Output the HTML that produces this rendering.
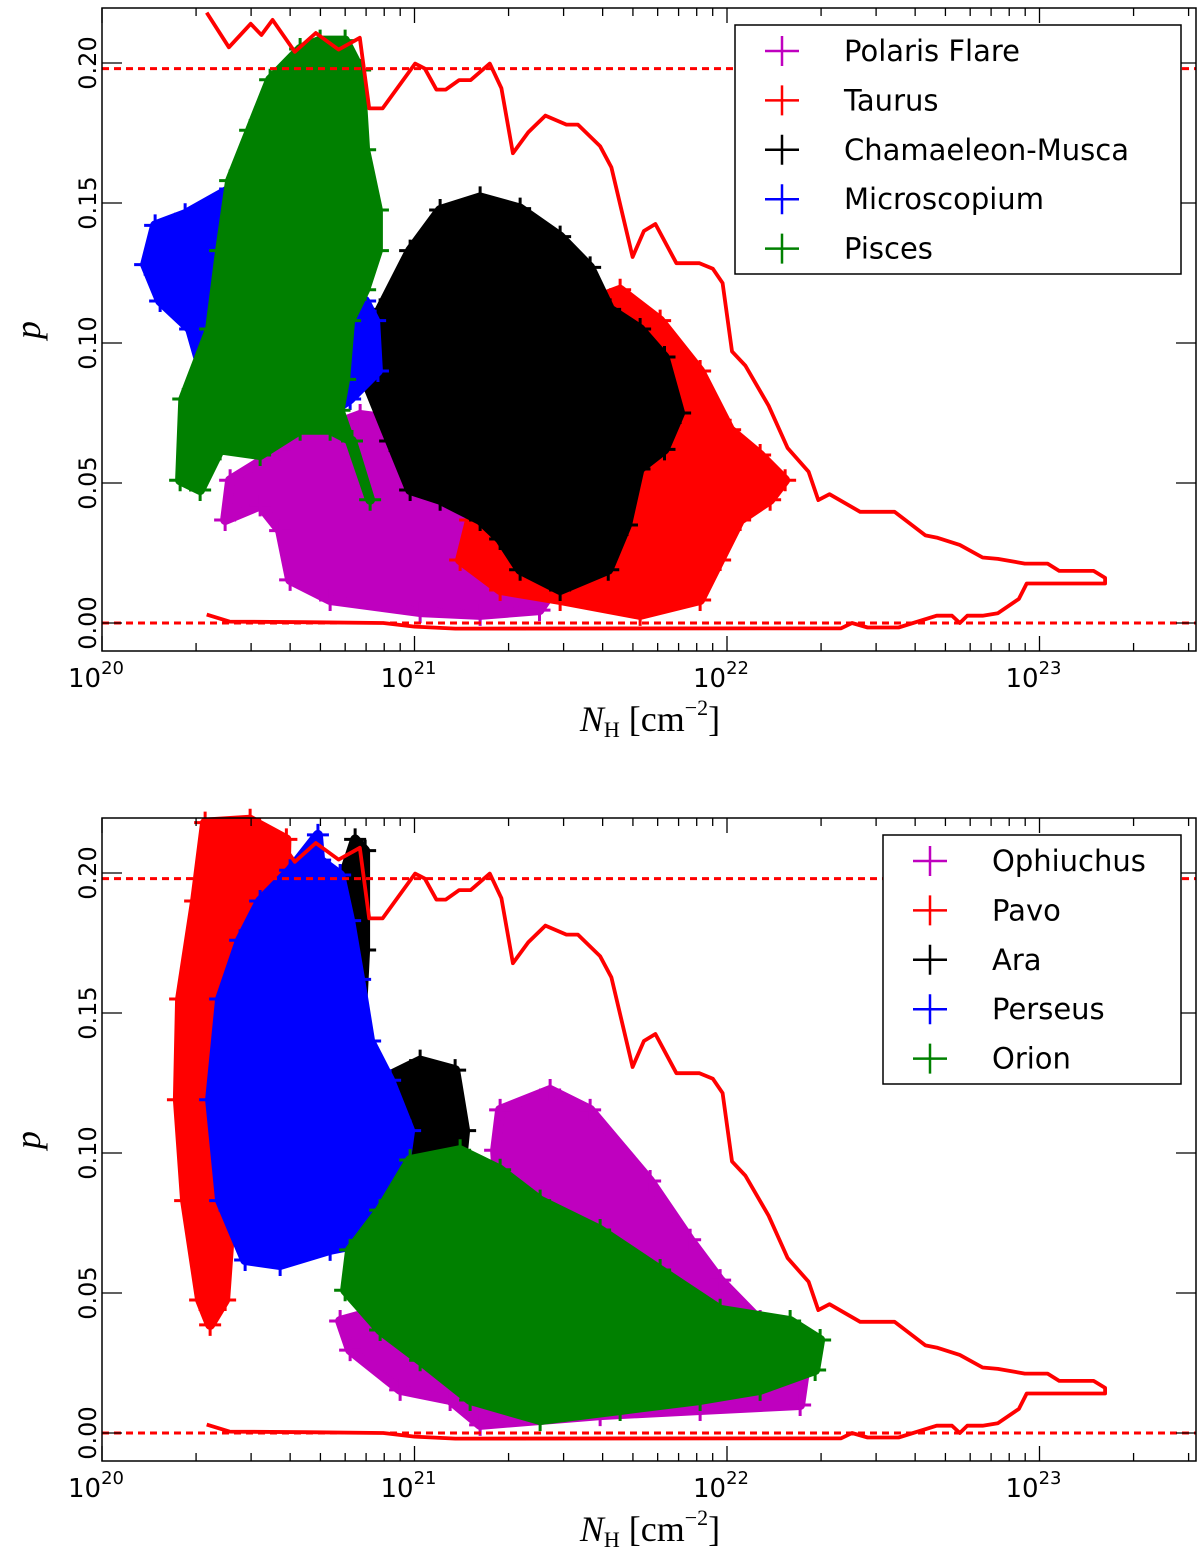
<!DOCTYPE html>
<html><head><meta charset="utf-8"><style>
html,body{margin:0;padding:0;background:#fff;width:1200px;height:1553px;overflow:hidden}
svg text{font-family:"DejaVu Sans","Liberation Sans",sans-serif}
</style></head><body>
<svg id="chart" xmlns="http://www.w3.org/2000/svg" width="1200" height="1553" viewBox="0 0 1200 1553"></svg>
<script>
// ---- data (x = log10 NH, y = p) ----
const xTicks = [20, 21, 22, 23];
const xTickLabels = ["20", "21", "22", "23"];
const yTicks = [0.00, 0.05, 0.10, 0.15, 0.20];
const yTickLabels = ["0.00", "0.05", "0.10", "0.15", "0.20"];
const dashLevels = [0.198, 0.0];
const envelopeLogNH = [20.335,20.406,20.476,20.51,20.546,20.617,20.684,20.757,20.825,20.855,20.898,21.002,21.033,21.07,21.10,21.143,21.18,21.241,21.278,21.315,21.364,21.419,21.486,21.523,21.594,21.63,21.698,21.734,21.771,21.838,21.912,21.955,21.986,22.016,22.059,22.133,22.194,22.261,22.292,22.328,22.426,22.536,22.635,22.671,22.745,22.818,22.867,22.953,23.026,23.063,23.173,23.21,23.21,22.959,22.934,22.867,22.818,22.769,22.745,22.72,22.671,22.549,22.45,22.40,22.365,21.131,21.0,20.9,20.65,20.408,20.335];
const envelopeP = [0.218,0.2056,0.214,0.21,0.2154,0.204,0.2107,0.2048,0.209,0.1838,0.1838,0.1998,0.198,0.1905,0.1905,0.1939,0.1939,0.1998,0.191,0.1678,0.1753,0.1812,0.178,0.178,0.1703,0.1627,0.1307,0.14,0.1425,0.1285,0.1285,0.1265,0.1214,0.097,0.0919,0.0776,0.0625,0.054,0.0439,0.046,0.0397,0.0397,0.0313,0.0305,0.0279,0.0234,0.0229,0.0212,0.0212,0.0186,0.0186,0.0161,0.0141,0.0141,0.0086,0.0035,0.0026,0.0026,0.0,0.0026,0.0026,-0.0016,-0.0016,0.0,-0.0019,-0.002,-0.0013,0.0,0.0003,0.0005,0.003];

const topNames = ["Polaris Flare","Taurus","Chamaeleon-Musca","Microscopium","Pisces"];
const bottomNames = ["Ophiuchus","Pavo","Ara","Perseus","Orion"];
const seriesColors = ["#bf00bf","#ff0000","#000000","#0000ff","#008000"];

const polarisX = [20.41,20.57,20.698,20.826,20.954,21.082,21.21,21.338,21.466,21.40,21.21,21.018,20.73,20.602,20.57,20.506,20.394];
const polarisY = [0.051,0.062,0.069,0.0743,0.0725,0.065,0.051,0.030,0.0154,0.0046,0.0029,0.0039,0.0082,0.0154,0.033,0.042,0.0368];
const taurusX = [21.338,21.466,21.562,21.658,21.786,21.914,22.01,22.106,22.186,22.138,22.042,21.978,21.914,21.722,21.466,21.274,21.146,21.178,21.21,21.274];
const taurusY = [0.105,0.108,0.115,0.119,0.108,0.090,0.069,0.060,0.051,0.044,0.0368,0.0225,0.0082,0.0029,0.0082,0.0118,0.0225,0.0368,0.062,0.080];
const chamX = [20.89,20.986,21.082,21.21,21.338,21.466,21.562,21.626,21.722,21.80,21.85,21.80,21.72,21.68,21.62,21.466,21.338,21.274,21.21,21.082,20.986,20.922,20.842];
const chamY = [0.112,0.133,0.1475,0.152,0.148,0.138,0.127,0.112,0.105,0.095,0.075,0.062,0.055,0.035,0.019,0.0118,0.019,0.030,0.0368,0.044,0.0475,0.065,0.087];
const microX = [20.17,20.266,20.41,20.49,20.506,20.57,20.73,20.842,20.874,20.883,20.794,20.698,20.57,20.442,20.346,20.282,20.186,20.138];
const microY = [0.142,0.146,0.155,0.162,0.1475,0.1225,0.115,0.115,0.108,0.090,0.080,0.0725,0.069,0.0725,0.080,0.105,0.115,0.128];
const piscesX = [20.698,20.778,20.826,20.842,20.883,20.883,20.842,20.794,20.778,20.76,20.858,20.80,20.73,20.634,20.506,20.378,20.314,20.25,20.26,20.346,20.378,20.41,20.474,20.538,20.634];
const piscesY = [0.208,0.208,0.1975,0.169,0.1475,0.133,0.119,0.108,0.087,0.076,0.044,0.065,0.069,0.069,0.060,0.062,0.0475,0.051,0.080,0.105,0.133,0.158,0.176,0.194,0.205];

const ophX = [21.274,21.434,21.562,21.754,21.882,21.978,22.106,22.25,22.234,21.914,21.594,21.21,21.114,20.954,20.794,20.762,20.89,21.082,21.274,21.258];
const ophY = [0.1154,0.1225,0.1154,0.090,0.069,0.0546,0.040,0.0225,0.010,0.0082,0.0064,0.0029,0.0118,0.0154,0.0296,0.040,0.044,0.0475,0.0725,0.101];
const pavoX = [20.33,20.474,20.59,20.586,20.538,20.474,20.394,20.394,20.41,20.394,20.346,20.314,20.266,20.243,20.25,20.298];
const pavoY = [0.218,0.219,0.212,0.190,0.169,0.158,0.140,0.101,0.0725,0.0475,0.0386,0.0475,0.083,0.119,0.155,0.190];
const araX = [20.778,20.81,20.842,20.842,20.826,20.89,21.018,21.13,21.162,21.146,21.082,20.954,20.858,20.794,20.762,20.755];
const araY = [0.201,0.212,0.208,0.1725,0.137,0.126,0.133,0.1296,0.108,0.090,0.076,0.0654,0.0654,0.069,0.101,0.155];
const perseusX = [20.506,20.602,20.691,20.698,20.762,20.794,20.826,20.858,20.922,20.986,20.954,20.89,20.73,20.57,20.458,20.378,20.346,20.378,20.442];
const perseusY = [0.190,0.201,0.2136,0.2046,0.1993,0.183,0.162,0.140,0.126,0.108,0.083,0.069,0.0654,0.060,0.0618,0.083,0.119,0.155,0.176];
const orionX = [20.89,20.986,21.146,21.274,21.402,21.594,21.786,21.978,22.202,22.298,22.282,22.106,21.914,21.658,21.402,21.178,21.018,20.89,20.778,20.794];
const orionY = [0.0796,0.0975,0.101,0.094,0.083,0.0725,0.0582,0.044,0.040,0.0332,0.0225,0.0154,0.0118,0.0082,0.0046,0.0118,0.026,0.0368,0.051,0.0654];

const topClouds = [[polarisX,polarisY],[taurusX,taurusY],[chamX,chamY],[microX,microY],[piscesX,piscesY]];
const bottomClouds = [[ophX,ophY],[pavoX,pavoY],[araX,araY],[perseusX,perseusY],[orionX,orionY]];

// ---- layout ----
const NS = "http://www.w3.org/2000/svg";
const svg = document.getElementById("chart");
const X0 = 102, DEC = 312.5, XR = 1196;
function xs(v){ return X0 + (v - 20) * DEC; }
function ys(p, off){ return 623 + off - p * 2800; }
function mk(tag, attrs, parent){
  const e = document.createElementNS(NS, tag);
  for (const k in attrs) e.setAttribute(k, attrs[k]);
  (parent || svg).appendChild(e);
  return e;
}

function panel(off, clouds, names, legendBox, key){
  const g = mk("g", {});
  
  
  const top = 8 + off, bot = 651 + off;
  clouds.forEach((c, i) => {
    const cg = mk("g", {}, g);
    
    
    const pts = c[0].map((x, j) => xs(x).toFixed(1) + "," + ys(c[1][j], off).toFixed(1)).join(" ");
    mk("polygon", {points: pts, fill: seriesColors[i], stroke: seriesColors[i], "stroke-width": 10, "stroke-linejoin": "round"}, cg);
    c[0].forEach((x, j) => {
      const px = xs(x), py = ys(c[1][j], off);
      const m = mk("path", {d: `M${px-11},${py}H${px+11}M${px},${py-11}V${py+11}`, stroke: seriesColors[i], "stroke-width": 3}, cg);
      
      
    });
  });
  dashLevels.forEach(d => {
    const l = mk("line", {x1: X0, x2: XR, y1: ys(d, off), y2: ys(d, off), stroke: "#ff0000", "stroke-width": 3, "stroke-dasharray": "7,5"}, g);
    
    
  });
  const env = mk("polyline", {points: envelopeLogNH.map((x,j)=>xs(x).toFixed(1)+","+ys(envelopeP[j],off).toFixed(1)).join(" "), fill: "none", stroke: "#ff0000", "stroke-width": 3.8, "stroke-linejoin": "round"}, g);
  
  
  const fr = mk("rect", {x: X0, y: top, width: XR - X0, height: bot - top, fill: "none", stroke: "#000", "stroke-width": 1.5}, g);
  
  
  for (let d = 20; d <= 23; d++){
    for (let k = 1; k <= 9; k++){
      const v = d + Math.log10(k);
      if (xs(v) > XR) continue;
      const L = k === 1 ? 15 : 8;
      mk("line", {x1: xs(v), x2: xs(v), y1: top, y2: top + L, stroke: "#000", "stroke-width": 1.3}, g);
      mk("line", {x1: xs(v), x2: xs(v), y1: bot, y2: bot - L, stroke: "#000", "stroke-width": 1.3}, g);
    }
  }
  xTicks.forEach((t, i) => {
    const tx = mk("text", {x: xs(t) - 6, y: 687 + off, "text-anchor": "middle", "font-size": 26}, g);
    
    
    tx.textContent = "10";
    const s = mk("tspan", {dy: -13, "font-size": 18}, tx);
    s.textContent = xTickLabels[i];
  });
  yTicks.forEach((t, i) => {
    const y = ys(t, off);
    mk("line", {x1: X0, x2: X0 + 20, y1: y, y2: y, stroke: "#000", "stroke-width": 1.3}, g);
    mk("line", {x1: XR, x2: XR - 20, y1: y, y2: y, stroke: "#000", "stroke-width": 1.3}, g);
    const tx = mk("text", {x: 0, y: 0, transform: `translate(96,${y}) rotate(-90)`, "text-anchor": "middle", "font-size": 24}, g);
    
    
    tx.textContent = yTickLabels[i];
  });
  const xl = mk("text", {x: 650, y: 731 + off, "text-anchor": "middle", "font-size": 36, style: "font-family:'Liberation Serif','DejaVu Serif',serif"}, g);
  
  
  xl.innerHTML = '<tspan font-style="italic">N</tspan><tspan font-size="22" dy="6">H</tspan><tspan dy="-6"> [cm</tspan><tspan font-size="22" dy="-16">−2</tspan><tspan dy="16">]</tspan>';
  const yl = mk("text", {x: 0, y: 0, transform: `translate(40,${330 + off}) rotate(-90)`, "text-anchor": "middle", "font-size": 36, "font-style": "italic", style: "font-family:'Liberation Serif','DejaVu Serif',serif"}, g);
  
  
  yl.textContent = "p";
  const lg = mk("g", {}, g);
  
  
  mk("rect", {x: legendBox[0], y: legendBox[1] + off, width: legendBox[2], height: legendBox[3], fill: "#fff", stroke: "#000", "stroke-width": 1.5}, lg);
  names.forEach((n, i) => {
    const ey = legendBox[1] + off + 26 + i * 49.4;
    const eg = mk("g", {}, lg);
    
    
    const mx = legendBox[0] + 47;
    mk("path", {d: `M${mx-17},${ey}H${mx+17}M${mx},${ey-15}V${ey+15}`, stroke: seriesColors[i], "stroke-width": 2.5}, eg);
    const t = mk("text", {x: legendBox[0] + 109, y: ey + 10, "font-size": 29}, eg);
    t.textContent = n;
  });
}
panel(0, topClouds, topNames, [735, 25, 446, 249], "top");
panel(810, bottomClouds, bottomNames, [883, 25, 298, 249], "bottom");
</script>
</body></html>
